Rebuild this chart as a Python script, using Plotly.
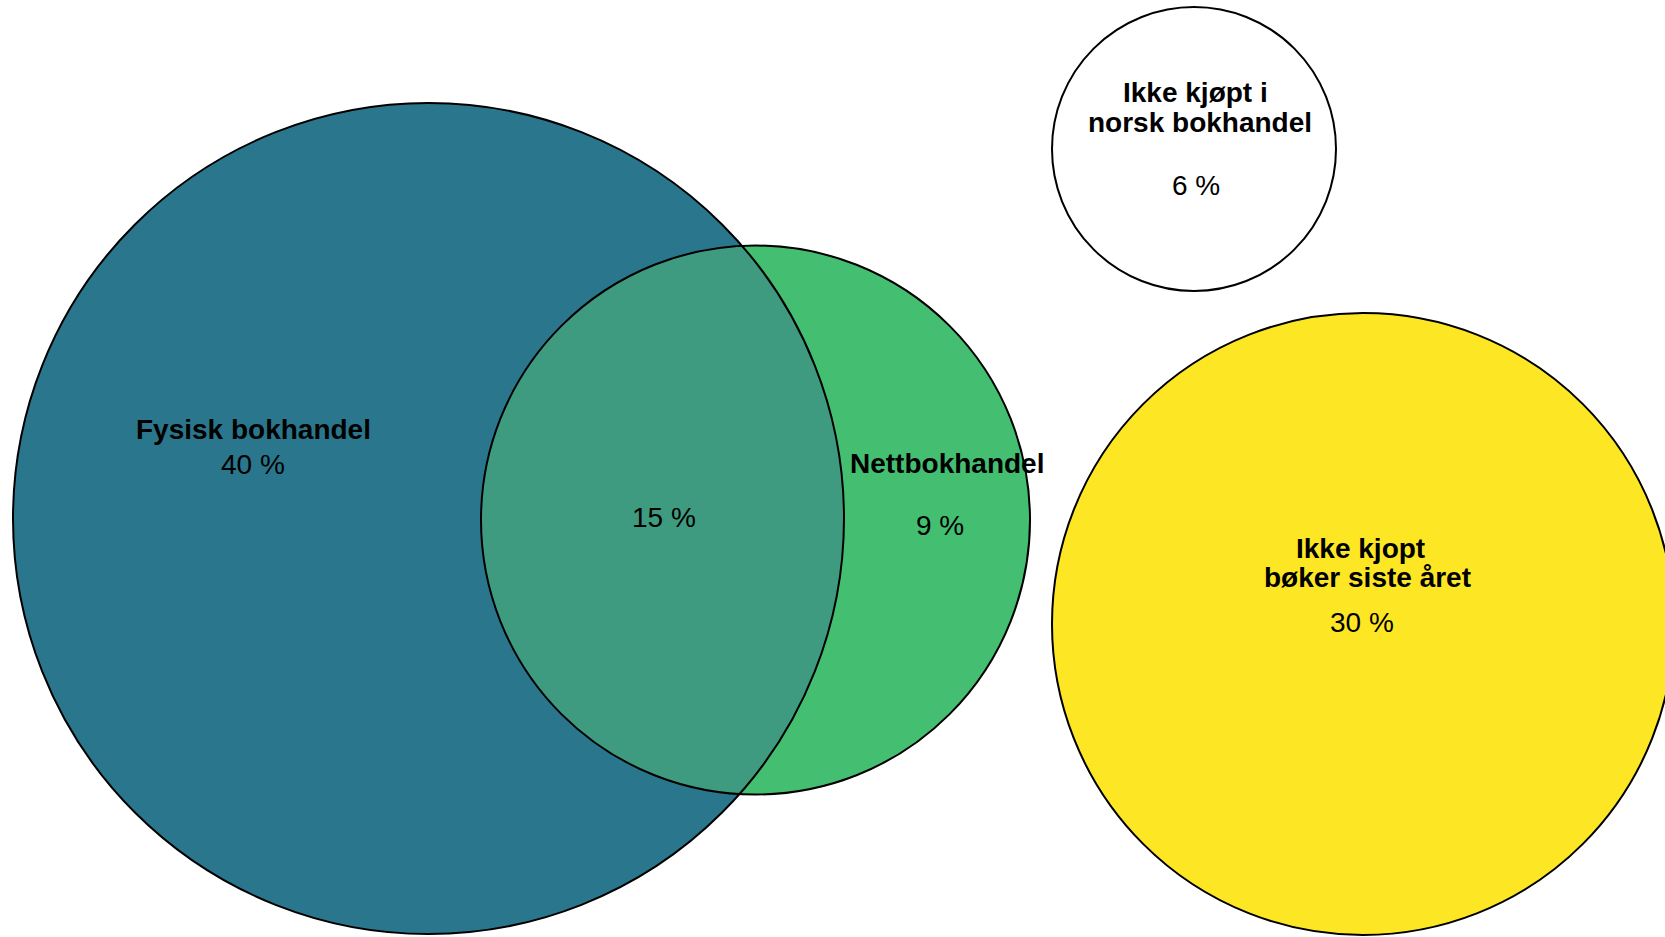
import numpy as np
import plotly.graph_objects as go

# ---- data ----
set_labels = ["Fysisk bokhandel", "Nettbokhandel", "Ikke kjøpt i\nnorsk bokhandel", "Ikke kjopt \n bøker siste året"]
set_values = [40, 9, 6, 30]          # exclusive shares (%)
overlap_label_value = 15              # Fysisk ∩ Nett (%)

# ---- layout geometry (page-pixel data units) ----
W, H = 1665, 937
circles = {  # cx, cy, r
    "fys": (428.5, 518.5, 415.5),
    "nett": (755.5, 520.0, 274.5),
    "ikke_norsk": (1194.0, 149.0, 142.0),
    "ikke_kjopt": (1363.0, 624.0, 311.0),
}
fills = {"fys": "#2A778D", "nett": "#44BF71", "ikke_norsk": "#FFFFFF", "ikke_kjopt": "#FDE725"}
overlap_fill = "#3F9B80"
FONT = "Liberation Sans, Arial, sans-serif"
FS = 28

fig = go.Figure()
shapes = []

def circ(key, fill=None, line=True):
    cx, cy, r = circles[key]
    return dict(type="circle", xref="x", yref="y", x0=cx - r, x1=cx + r, y0=cy - r, y1=cy + r,
                fillcolor=fill if fill else "rgba(0,0,0,0)",
                line=dict(color="black", width=2) if line else dict(width=0))

shapes.append(circ("fys", fills["fys"], line=False))
shapes.append(circ("nett", fills["nett"], line=False))

# lens (intersection) path, computed from the two circles
ax_, ay_, ra = circles["fys"]
bx_, by_, rb = circles["nett"]
dx, dy = bx_ - ax_, by_ - ay_
d = np.hypot(dx, dy)
base = np.arctan2(dy, dx)
a = (d**2 + ra**2 - rb**2) / (2 * d)
h = np.sqrt(ra**2 - a**2)
tA = np.arctan2(h, a)
tB = np.arctan2(h, d - a)
angA = np.linspace(base - tA, base + tA, 90)
ptsA = [(ax_ + ra * np.cos(t), ay_ + ra * np.sin(t)) for t in angA]
angB = np.linspace(base + np.pi + tB, base + np.pi - tB, 90)
ptsB = [(bx_ + rb * np.cos(t), by_ + rb * np.sin(t)) for t in angB]
pts = ptsA + ptsB
path = "M " + " L ".join(f"{x:.2f},{y:.2f}" for x, y in pts) + " Z"
shapes.append(dict(type="path", xref="x", yref="y", path=path, fillcolor=overlap_fill, line=dict(width=0)))

shapes.append(circ("fys", None))
shapes.append(circ("nett", None))
shapes.append(circ("ikke_norsk", fills["ikke_norsk"]))
shapes.append(circ("ikke_kjopt", fills["ikke_kjopt"]))

# ---- text ----
label_pos = {
    0: [(253, 429)],
    1: [(947, 463)],
    2: [(1195, 92), (1200, 122)],
    3: [(1360, 548), (1367, 577)],
}
value_pos = {0: (253, 464), 1: (940, 525), 2: (1196, 185), 3: (1362, 622)}

annotations = []
for i, lab in enumerate(set_labels):
    lines = [s.strip() for s in lab.split("\n")]
    for (x, y), t in zip(label_pos[i], lines):
        annotations.append(dict(x=x, y=y, xref="x", yref="y", text=f"<b>{t}</b>", showarrow=False,
                                font=dict(family=FONT, size=FS, color="black"), xanchor="center", yanchor="middle"))
    vx, vy = value_pos[i]
    annotations.append(dict(x=vx, y=vy, xref="x", yref="y", text=f"{set_values[i]} %", showarrow=False,
                            font=dict(family=FONT, size=FS, color="black"), xanchor="center", yanchor="middle"))
annotations.append(dict(x=664, y=517, xref="x", yref="y", text=f"{overlap_label_value} %", showarrow=False,
                        font=dict(family=FONT, size=FS, color="black"), xanchor="center", yanchor="middle"))

fig.update_layout(
    width=W, height=H, margin=dict(l=0, r=0, t=0, b=0),
    paper_bgcolor="white", plot_bgcolor="white",
    xaxis=dict(range=[0, W], visible=False, fixedrange=True),
    yaxis=dict(range=[H, 0], visible=False, fixedrange=True),
    shapes=shapes, annotations=annotations, showlegend=False,
)
fig.write_html("out.html", config={"displayModeBar": False},
               post_script="document.body.style.margin='0px'; document.body.style.overflow='hidden';")
